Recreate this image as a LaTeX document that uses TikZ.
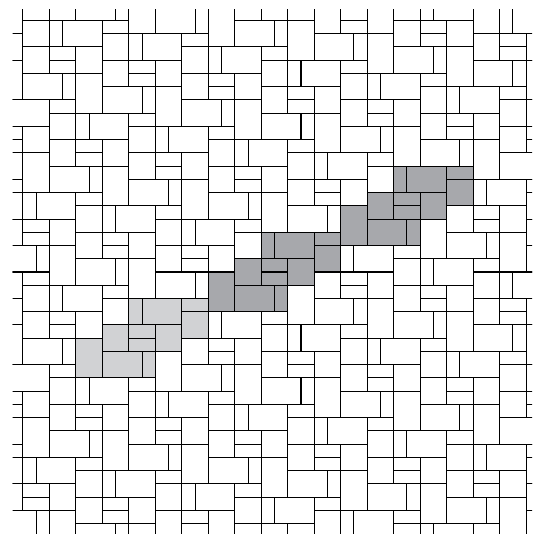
\documentclass[tikz,border=0pt]{standalone}
\usepackage{xcolor}
\usepackage{tikz}

\definecolor{darkslab}{RGB}{167,168,172}
\definecolor{lightslab}{RGB}{209,210,212}

% one repeating group of eleven slabs, lower left corner at (#1,#2)
\newcommand{\slabgroup}[3]{%
  \path[#3, shift={(#1,#2)}]
    (0,0) rectangle (2,3) (2,2) rectangle (4,4) (2,0) rectangle (5,2)
    (5,0) rectangle (6,2) (4,3) rectangle (6,4) (4,2) rectangle (6,3)
    (6,2) rectangle (8,4) (4,4) rectangle (5,6) (5,4) rectangle (8,6)
    (8,5) rectangle (10,6) (8,3) rectangle (10,5);}

\begin{document}
\begin{tikzpicture}[
        x=0.4cm, y=0.4cm,
        slab/.style={draw=black, line width=0.9pt, line join=miter},
        darkgroup/.style={fill=darkslab},
        lightgroup/.style={fill=lightslab}
    ]

    \useasboundingbox (-0.733,0.211) rectangle (39.45,40.544);

    \begin{scope}
    \clip (0.227,0.211) rectangle (39.45,39.79);

    % highlighted groups
    \slabgroup{5}{12}{lightgroup}
    \slabgroup{15}{17}{darkgroup}
    \slabgroup{25}{22}{darkgroup}

    % the pattern repeats along (10,5) and (6,-1)
    \foreach \i in {-4,...,4} {
        \foreach \j in {-9,...,9} {
            \pgfmathsetmacro{\gx}{15+10*\i+6*\j}
            \pgfmathsetmacro{\gy}{17+5*\i-\j}
            \slabgroup{\gx}{\gy}{slab}
        }
    }
    \end{scope}

\end{tikzpicture}
\end{document}
